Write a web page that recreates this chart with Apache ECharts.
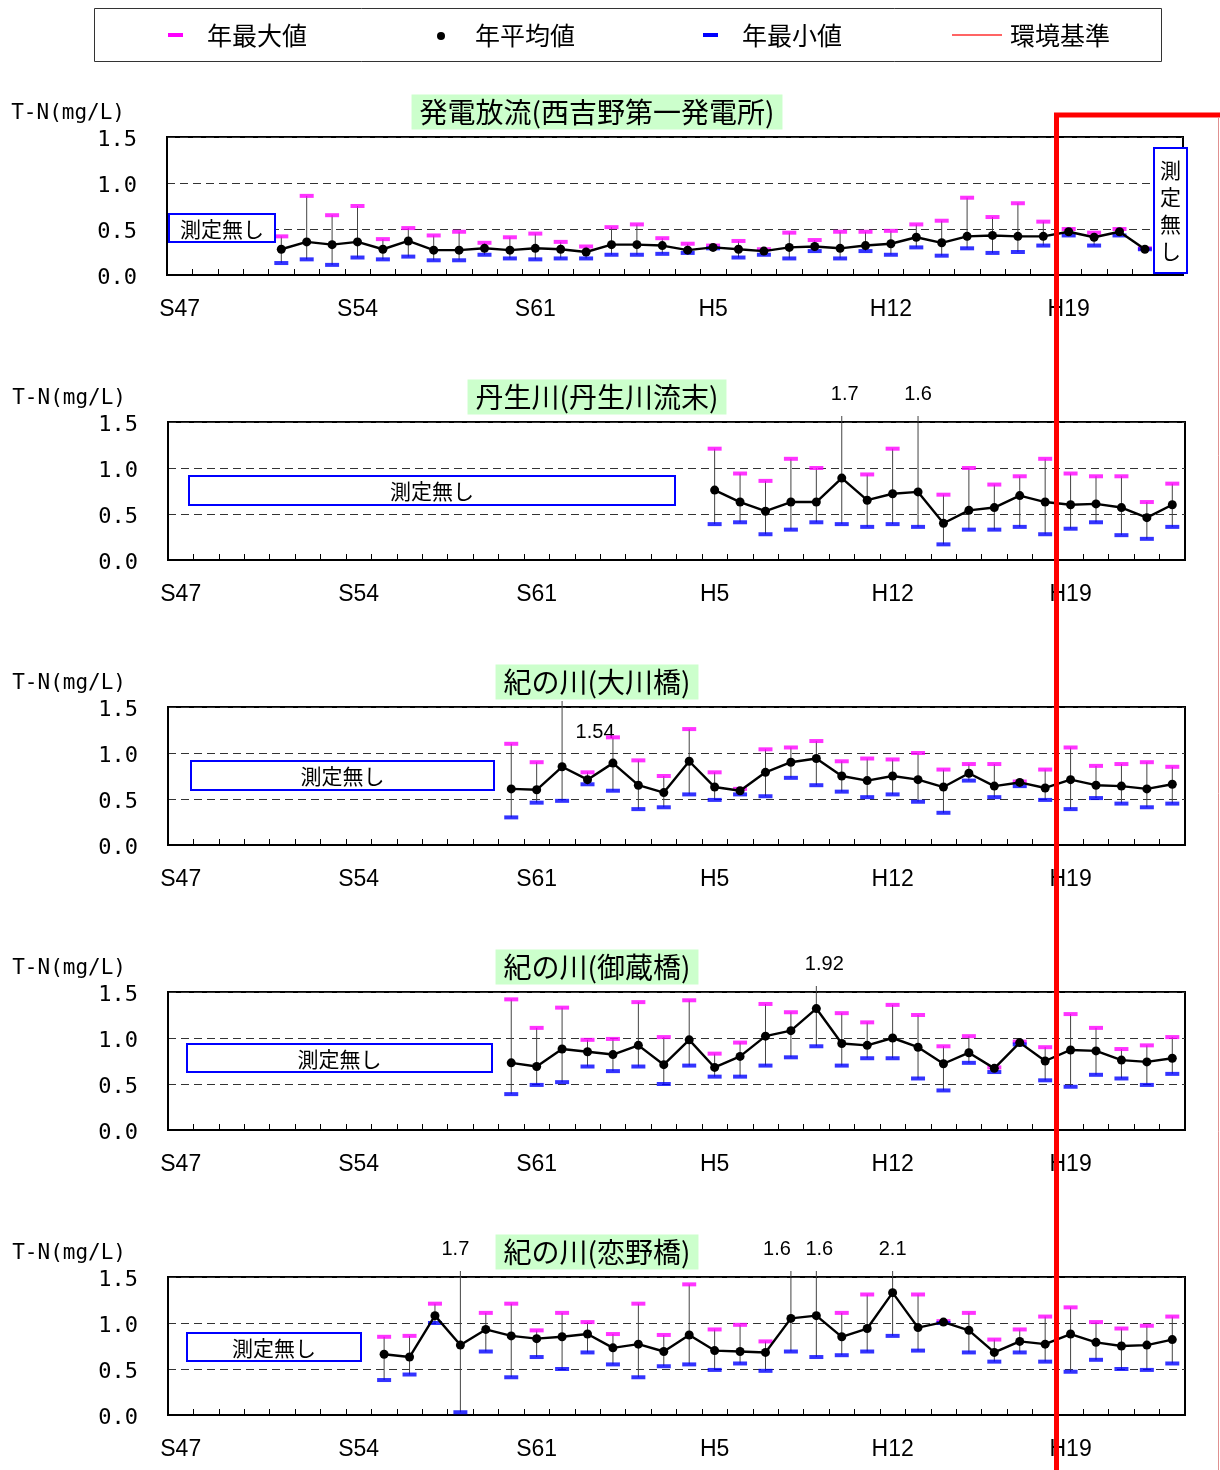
<!DOCTYPE html>
<html><head><meta charset="utf-8">
<script src="https://cdn.jsdelivr.net/npm/echarts@6.0.0/dist/echarts.min.js"></script>
<style>html,body{margin:0;padding:0;background:#fff}#c{width:1220px;height:1470px}</style>
</head><body><div id="c"></div>
<script>
// ---- categories (S47 = 1972 ... H23 = 2011) ----
const years = ['S47','S48','S49','S50','S51','S52','S53','S54','S55','S56','S57','S58','S59','S60','S61','S62','S63',
  'H1','H2','H3','H4','H5','H6','H7','H8','H9','H10','H11','H12','H13','H14','H15','H16','H17','H18','H19','H20','H21','H22','H23'];
const yTicks = [0, 0.5, 1.0, 1.5];

// ---- 発電放流(西吉野第一発電所) ----
const p1Max  = [null,null,null,null,0.42,0.86,0.65,0.75,0.39,0.51,0.43,0.47,0.35,0.41,0.45,0.36,0.31,0.52,0.55,0.40,0.34,0.32,0.37,0.28,0.46,0.38,0.47,0.47,0.48,0.55,0.59,0.84,0.63,0.78,0.58,0.50,0.46,0.50,0.29,null];
const p1Mean = [null,null,null,null,0.28,0.36,0.33,0.36,0.28,0.37,0.27,0.27,0.29,0.27,0.29,0.28,0.25,0.33,0.33,0.32,0.27,0.30,0.28,0.26,0.30,0.31,0.29,0.32,0.34,0.41,0.35,0.42,0.43,0.42,0.42,0.47,0.41,0.47,0.28,null];
const p1Min  = [null,null,null,null,0.13,0.17,0.11,0.19,0.17,0.20,0.16,0.16,0.22,0.18,0.17,0.18,0.18,0.22,0.22,0.23,0.24,0.29,0.19,0.22,0.18,0.26,0.18,0.26,0.22,0.30,0.21,0.29,0.24,0.25,0.32,0.43,0.32,0.43,0.28,null];

// ---- 丹生川(丹生川流末) ----
const p2Max  = [null,null,null,null,null,null,null,null,null,null,null,null,null,null,null,null,null,null,null,null,null,
  1.21,0.94,0.86,1.10,1.00,1.7,0.93,1.21,1.6,0.71,1.00,0.82,0.91,1.10,0.94,0.91,0.91,0.63,0.83];
const p2Mean = [null,null,null,null,null,null,null,null,null,null,null,null,null,null,null,null,null,null,null,null,null,
  0.76,0.63,0.53,0.63,0.63,0.89,0.65,0.72,0.74,0.40,0.54,0.57,0.70,0.63,0.60,0.61,0.57,0.46,0.60];
const p2Min  = [null,null,null,null,null,null,null,null,null,null,null,null,null,null,null,null,null,null,null,null,null,
  0.39,0.41,0.28,0.33,0.41,0.39,0.36,0.39,0.36,0.17,0.33,0.33,0.36,0.28,0.34,0.41,0.27,0.23,0.36];

// ---- 紀の川(大川橋) ----
const p3Max  = [null,null,null,null,null,null,null,null,null,null,null,null,null,
  1.10,0.90,1.54,0.79,1.17,0.92,0.75,1.26,0.79,0.61,1.04,1.06,1.13,0.91,0.94,0.93,1.00,0.82,0.88,0.88,0.69,0.82,1.06,0.86,0.88,0.90,0.85];
const p3Mean = [null,null,null,null,null,null,null,null,null,null,null,null,null,
  0.61,0.60,0.85,0.71,0.89,0.65,0.57,0.91,0.63,0.59,0.79,0.90,0.94,0.75,0.70,0.75,0.71,0.63,0.78,0.64,0.68,0.62,0.71,0.65,0.64,0.61,0.66];
const p3Min  = [null,null,null,null,null,null,null,null,null,null,null,null,null,
  0.30,0.46,0.48,0.66,0.59,0.39,0.41,0.55,0.49,0.55,0.53,0.73,0.65,0.58,0.52,0.55,0.47,0.35,0.70,0.52,0.64,0.49,0.39,0.51,0.45,0.41,0.45];

// ---- 紀の川(御蔵橋) ----
const p4Max  = [null,null,null,null,null,null,null,null,null,null,null,null,null,
  1.42,1.11,1.33,0.98,0.99,1.39,1.01,1.41,0.83,0.95,1.37,1.28,1.92,1.27,1.17,1.36,1.25,0.91,1.02,0.68,0.96,0.90,1.26,1.11,0.88,0.92,1.01];
const p4Mean = [null,null,null,null,null,null,null,null,null,null,null,null,null,
  0.73,0.69,0.88,0.85,0.82,0.92,0.71,0.98,0.68,0.80,1.02,1.08,1.32,0.94,0.92,1.00,0.90,0.72,0.84,0.67,0.95,0.75,0.87,0.86,0.76,0.74,0.78];
const p4Min  = [null,null,null,null,null,null,null,null,null,null,null,null,null,
  0.39,0.49,0.52,0.69,0.64,0.69,0.50,0.70,0.58,0.58,0.70,0.79,0.91,0.70,0.78,0.78,0.56,0.43,0.73,0.63,0.93,0.54,0.47,0.60,0.56,0.49,0.61];

// ---- 紀の川(恋野橋) ----
const p5Max  = [null,null,null,null,null,null,null,null,
  0.85,0.86,1.21,1.7,1.11,1.21,0.92,1.11,1.01,0.88,1.21,0.87,1.42,0.93,0.98,0.80,1.6,1.6,1.11,1.31,2.1,1.31,1.02,1.11,0.82,0.93,1.07,1.17,1.01,0.94,0.97,1.07];
const p5Mean = [null,null,null,null,null,null,null,null,
  0.66,0.63,1.08,0.76,0.93,0.86,0.83,0.85,0.88,0.73,0.77,0.69,0.87,0.70,0.69,0.68,1.05,1.08,0.85,0.94,1.33,0.95,1.01,0.92,0.68,0.80,0.77,0.88,0.79,0.75,0.76,0.82];
const p5Min  = [null,null,null,null,null,null,null,null,
  0.38,0.44,1.00,0.03,0.69,0.41,0.63,0.50,0.68,0.55,0.41,0.53,0.55,0.49,0.56,0.48,0.69,0.63,0.65,0.69,0.86,0.70,1.00,0.68,0.58,0.68,0.58,0.47,0.60,0.50,0.49,0.56];

const titles = ['発電放流(西吉野第一発電所)','丹生川(丹生川流末)','紀の川(大川橋)','紀の川(御蔵橋)','紀の川(恋野橋)'];
const legendNames = ['年最大値','年平均値','年最小値','環境基準'];
const noDataText = '測定無し';
const yName = 'T-N(mg/L)';

// ---- layout / style ----
const YMAX = 1.5;
const JP = '"Noto Sans CJK JP","Noto Sans",sans-serif';
const MONO = '"DejaVu Sans Mono",monospace';
const NUM = '"Liberation Sans Narrow","Liberation Sans",Arial,sans-serif';
const panels = [
  {title:titles[0], max:p1Max, mean:p1Mean, min:p1Min, left:167, top:137, width:1016,
   labelOff:{}, boxes:[{x:169,y:214,w:106,h:28,text:noDataText}], vbox:{x:1154,y:148,w:33,h:125}},
  {title:titles[1], max:p2Max, mean:p2Mean, min:p2Min, left:168, top:422, width:1017,
   labelOff:{26:[3,0],29:[0,0]}, boxes:[{x:189,y:476,w:486,h:29,text:noDataText}]},
  {title:titles[2], max:p3Max, mean:p3Mean, min:p3Min, left:168, top:707, width:1017,
   labelOff:{15:[33,53]}, boxes:[{x:191,y:761,w:303,h:29,text:noDataText}]},
  {title:titles[3], max:p4Max, mean:p4Mean, min:p4Min, left:168, top:992, width:1017,
   labelOff:{25:[8,0]}, boxes:[{x:187,y:1044,w:305,h:28,text:noDataText}]},
  {title:titles[4], max:p5Max, mean:p5Mean, min:p5Min, left:168, top:1277, width:1017,
   labelOff:{11:[-5,0],24:[-14,0],25:[3,0]}, boxes:[{x:187,y:1333,w:174,h:28,text:noDataText}]}
];
const PH = 138;

const grids=[], xAxes=[], yAxes=[], series=[], graphics=[];
panels.forEach((p,k)=>{
  grids.push({left:p.left, top:p.top, width:p.width, height:PH, show:true, borderColor:'#000', borderWidth:2, backgroundColor:'transparent'});
  xAxes.push({type:'category', gridIndex:k, data:years, boundaryGap:true,
    axisLine:{show:true, lineStyle:{color:'#000', width:2}},
    axisTick:{show:true, inside:true, interval:0, length:6, lineStyle:{color:'#000', width:1}},
    axisLabel:{interval:6, margin:23, color:'#000', fontFamily:NUM, fontSize:23},
    splitLine:{show:false}});
  yAxes.push({type:'value', gridIndex:k, min:yTicks[0], max:yTicks[yTicks.length-1], interval:0.5,
    name:yName, nameLocation:'end', nameGap:13,
    nameTextStyle:{fontFamily:MONO, fontSize:21, color:'#000', align:'right', padding:[0,42,0,0]},
    axisLine:{show:true, lineStyle:{color:'#000', width:2}}, axisTick:{show:false},
    axisLabel:{margin:30, color:'#000', fontFamily:MONO, fontSize:22,
      formatter:v=>'{a|'+v.toFixed(1)+'}',
      rich:{a:{fontFamily:MONO, fontSize:22, color:'#000', padding:[6,0,0,0]}}},
    splitLine:{show:true, lineStyle:{color:'#333', width:1, type:[8,5]}}});
  const wdata = [];
  p.min.forEach((lo,i)=>{ if(lo!=null && p.max[i]!=null) wdata.push([i, lo, p.max[i]]); });
  series.push({type:'custom', xAxisIndex:k, yAxisIndex:k, clip:false, z:2, silent:true,
    data:wdata, encode:{x:0, y:[1,2]},
    renderItem:(params, api)=>{
      const i=api.value(0), lo=api.value(1), hi=api.value(2);
      const cs=params.coordSys;
      const a=api.coord([i, lo]);
      const over = hi>YMAX;
      const b = over ? [a[0], cs.y-6] : api.coord([i, hi]);
      const ch=[{type:'line', shape:{x1:a[0],y1:a[1],x2:b[0],y2:b[1]}, style:{stroke:'#444', lineWidth:1}}];
      if(over){
        const off=p.labelOff[i]||[0,0];
        ch.push({type:'text', style:{text:String(hi), x:a[0]+off[0], y:cs.y-28+off[1], align:'center', verticalAlign:'middle',
          fill:'#000', font:'20px '+NUM}});
      }
      return {type:'group', children:ch};
    }});
  series.push({type:'scatter', xAxisIndex:k, yAxisIndex:k, z:3, silent:true, symbol:'rect', symbolSize:[14,4],
    itemStyle:{color:'#ff00ff'}, data:p.max.map(v=>(v!=null && v<=YMAX)?v:'-')});
  series.push({type:'scatter', xAxisIndex:k, yAxisIndex:k, z:3, silent:true, symbol:'rect', symbolSize:[14,4],
    itemStyle:{color:'#0000ff'}, data:p.min.map(v=>v!=null?v:'-')});
  series.push({type:'line', xAxisIndex:k, yAxisIndex:k, z:4, silent:true, symbol:'circle', symbolSize:9, showAllSymbol:true,
    itemStyle:{color:'#000'}, lineStyle:{color:'#000', width:2.4}, data:p.mean, connectNulls:false, animation:false});
  // title
  graphics.push({type:'text', z:10, style:{text:p.title, x:597, y:p.top-25, align:'center', verticalAlign:'middle',
    font:'28px '+JP, fill:'#000', backgroundColor:'#ccffcc', padding:[4,8,3,8]}});
  p.boxes.forEach(b=>{
    graphics.push({type:'rect', z:10, shape:{x:b.x,y:b.y,width:b.w,height:b.h}, style:{fill:'#fff', stroke:'#0000ff', lineWidth:2}});
    graphics.push({type:'text', z:11, style:{text:b.text, x:b.x+b.w/2, y:b.y+b.h/2+1, align:'center', verticalAlign:'middle', font:'21px '+JP, fill:'#000'}});
  });
  if(p.vbox){
    const b=p.vbox;
    graphics.push({type:'rect', z:10, shape:{x:b.x,y:b.y,width:b.w,height:b.h}, style:{fill:'#fff', stroke:'#0000ff', lineWidth:2}});
    graphics.push({type:'text', z:11, style:{text:noDataText.split('').join('\n'), x:b.x+b.w/2, y:b.y+b.h/2, align:'center', verticalAlign:'middle', font:'21px '+JP, lineHeight:27, fill:'#000'}});
  }
});

// legend (drawn as graphic to match the original box)
graphics.push({type:'rect', shape:{x:94.5,y:8.5,width:1067,height:53}, style:{fill:'#fff', stroke:'#333', lineWidth:1}, z:1});
graphics.push({type:'rect', shape:{x:168,y:33,width:15,height:4}, style:{fill:'#ff00ff'}, z:2});
graphics.push({type:'circle', shape:{cx:441,cy:36,r:4}, style:{fill:'#000'}, z:2});
graphics.push({type:'rect', shape:{x:703,y:33,width:15,height:4}, style:{fill:'#0000ff'}, z:2});
graphics.push({type:'line', shape:{x1:952,y1:35,x2:1002,y2:35}, style:{stroke:'#ff3030', lineWidth:1.5}, z:2});
[[207,0],[475,1],[742,2],[1010,3]].forEach(([x,n])=>{
  graphics.push({type:'text', z:2, style:{text:legendNames[n], x:x, y:35, align:'left', verticalAlign:'middle', font:'25px '+JP, fill:'#000'}});
});
// red annotation frame
graphics.push({type:'polyline', z:100, shape:{points:[[1056.5,1470],[1056.5,115],[1222,115]]}, style:{stroke:'#ff0000', lineWidth:5, fill:null}});
graphics.push({type:'line', z:100, shape:{x1:1218.5,y1:117,x2:1218.5,y2:1470}, style:{stroke:'#e09090', lineWidth:1}});

const chart = echarts.init(document.getElementById('c'), null, {renderer:'canvas'});
chart.setOption({animation:false, backgroundColor:'#fff', grid:grids, xAxis:xAxes, yAxis:yAxes, series:series, graphic:graphics});
</script></body></html>
